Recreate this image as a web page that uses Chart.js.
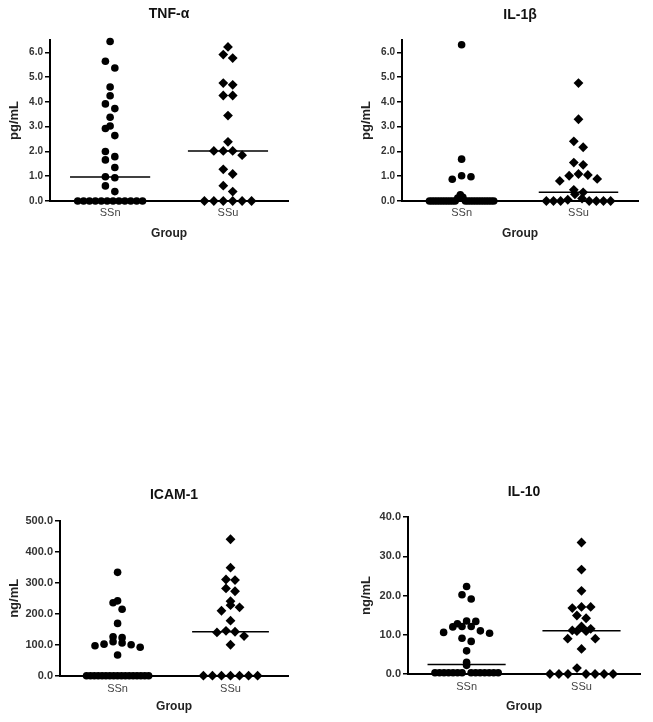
<!DOCTYPE html>
<html>
<head>
<meta charset="utf-8">
<script src="https://cdn.jsdelivr.net/npm/chart.js@4"></script>
<style>
body { margin: 0; background: #fff; }
#page { position: relative; width: 653px; height: 722px; }
canvas { position: absolute; }
</style>
</head>
<body>
<div id="page">
<canvas id="tnfChart" width="293" height="250" style="left:0px;top:0px"></canvas>
<canvas id="il1bChart" width="291" height="250" style="left:352px;top:0px"></canvas>
<canvas id="icamChart" width="293" height="242" style="left:0px;top:480px"></canvas>
<canvas id="il10Chart" width="293" height="242" style="left:352px;top:480px"></canvas>
</div>
<script>
// grupos
const groups = ["SSn", "SSu"];

// TNF-alpha (pg/mL)
const tnfSSn = [6.44, 5.64, 5.37, 4.60, 4.25, 3.92, 3.73, 3.38, 3.03, 2.93, 2.64, 2.00, 1.79, 1.66, 1.35, 0.98, 0.94, 0.61, 0.38,
  0, 0, 0, 0, 0, 0, 0, 0, 0, 0, 0, 0];
const tnfSSu = [6.22, 5.91, 5.77, 4.76, 4.69, 4.26, 4.26, 3.45, 2.39, 2.02, 2.02, 2.02, 1.85, 1.28, 1.09, 0.62, 0.38,
  0, 0, 0, 0, 0, 0];
const tnfMedians = [0.97, 2.02];
const tnfTicks = [0, 1, 2, 3, 4, 5, 6];

// IL-1beta (pg/mL)
const il1bSSn = [6.31, 1.69, 1.02, 0.98, 0.88, 0.25, 0.15, 0.12,
  0, 0, 0, 0, 0, 0, 0, 0, 0, 0, 0, 0, 0, 0, 0, 0, 0, 0, 0, 0, 0, 0, 0];
const il1bSSu = [4.76, 3.30, 2.41, 2.17, 1.55, 1.46, 1.09, 1.05, 1.02, 0.89, 0.81, 0.45, 0.35, 0.27, 0.10, 0.05,
  0, 0, 0, 0, 0, 0, 0];
const il1bMedians = [0, 0.35];
const il1bTicks = [0, 1, 2, 3, 4, 5, 6];

// ICAM-1 (ng/mL)
const icamSSn = [334, 242, 236, 215, 169, 126, 123, 110, 106, 102, 100, 97, 92, 67,
  0, 0, 0, 0, 0, 0, 0, 0, 0, 0, 0, 0, 0, 0, 0, 0, 0];
const icamSSu = [441, 349, 311, 309, 282, 273, 241, 228, 221, 210, 178, 145, 142, 140, 128, 100,
  0, 0, 0, 0, 0, 0, 0];
const icamMedians = [0, 142];
const icamTicks = [0, 100, 200, 300, 400, 500];

// IL-10 (ng/mL)
const il10SSn = [22.3, 20.2, 19.1, 13.5, 13.4, 12.8, 12.1, 12.1, 12.0, 11.0, 10.6, 10.4, 9.1, 8.3, 5.9, 3.0, 2.2,
  0.3, 0.3, 0.3, 0.3, 0.3, 0.3, 0.3, 0.3, 0.3, 0.3, 0.3, 0.3, 0.3, 0.3];
const il10SSu = [33.5, 26.6, 21.2, 17.1, 17.1, 16.8, 14.9, 14.2, 12.1, 11.5, 11.1, 10.9, 10.9, 9.0, 9.0, 6.4, 1.5,
  0, 0, 0, 0, 0, 0, 0];
const il10Medians = [2.4, 11.0];
const il10Ticks = [0, 10, 20, 30, 40];

const FONT = "'Liberation Sans', Arial, sans-serif";

// espalha os pontos em linhas (estilo dot plot), maiores no centro
function swarm(values, center, bin) {
  const sorted = values.slice().sort((a, b) => a - b);
  const rows = [];
  sorted.forEach(v => {
    const row = rows[rows.length - 1];
    if (row && v - row[0] < bin) row.push(v);
    else rows.push([v]);
  });
  const pts = [];
  rows.forEach(row => {
    const n = row.length;
    const step = n > 1 ? Math.min(0.08, 0.55 / (n - 1)) : 0;
    const desc = row.slice().sort((a, b) => b - a);
    const mid = Math.floor((n - 1) / 2);
    desc.forEach((v, i) => {
      const slot = mid + (i % 2 ? 1 : -1) * Math.ceil(i / 2);
      pts.push({ x: center + (slot - (n - 1) / 2) * step, y: v });
    });
  });
  return pts;
}

const panelTitle = {
  id: "panelTitle",
  afterDraw(chart, args, opts) {
    const { ctx, chartArea } = chart;
    ctx.save();
    ctx.font = "bold 14px " + FONT;
    ctx.fillStyle = "#111";
    ctx.textAlign = "center";
    ctx.textBaseline = "middle";
    ctx.fillText(opts.text, (chartArea.left + chartArea.right) / 2, opts.y);
    ctx.restore();
  }
};

function dotPlot(id, p) {
  const bin = p.max * 0.05;
  new Chart(document.getElementById(id), {
    type: "scatter",
    data: {
      datasets: [
        {
          data: swarm(p.ssn, 1, bin),
          pointStyle: "circle",
          pointRadius: 3.8,
          backgroundColor: "#000",
          borderWidth: 0,
          clip: false
        },
        {
          data: swarm(p.ssu, 2, bin),
          pointStyle: "rectRot",
          pointRadius: 4.9,
          backgroundColor: "#000",
          borderWidth: 0,
          clip: false
        },
        {
          data: [{ x: 0.66, y: p.medians[0] }, { x: 1.34, y: p.medians[0] }],
          showLine: true, pointRadius: 0, borderColor: "#000", borderWidth: 1.5, clip: false
        },
        {
          data: [{ x: 1.66, y: p.medians[1] }, { x: 2.34, y: p.medians[1] }],
          showLine: true, pointRadius: 0, borderColor: "#000", borderWidth: 1.5, clip: false
        }
      ]
    },
    options: {
      responsive: false,
      animation: false,
      layout: { padding: { top: p.top, left: 0, right: 0, bottom: 0 } },
      plugins: {
        legend: { display: false },
        tooltip: { enabled: false },
        panelTitle: { text: p.title, y: p.titleY }
      },
      scales: {
        x: {
          type: "linear",
          min: 0.49,
          max: 2.51,
          afterBuildTicks: s => { s.ticks = groups.map((g, i) => ({ value: i + 1 })); },
          afterFit: s => { s.height = p.xH; },
          border: { color: "#000", width: 2 },
          grid: { drawOnChartArea: false, drawTicks: false },
          ticks: {
            padding: p.xPad,
            color: "#444",
            font: { family: FONT, size: 11 },
            callback: v => groups[Math.round(v) - 1]
          },
          title: {
            display: true,
            text: "Group",
            color: "#222",
            font: { family: FONT, size: 12, weight: "bold" },
            padding: { top: 0, bottom: p.gPad }
          }
        },
        y: {
          min: 0,
          max: p.max,
          afterBuildTicks: s => { s.ticks = p.ticks.map(v => ({ value: v })); },
          afterFit: s => { s.width = p.yW; },
          border: { color: "#000", width: 2 },
          grid: { drawOnChartArea: false, drawTicks: true, tickLength: 5, color: "#000", lineWidth: 1.5 },
          ticks: {
            padding: 2,
            color: "#333",
            font: { family: FONT, size: p.tickSize, weight: "bold" },
            callback: v => v.toFixed(1)
          },
          title: {
            display: true,
            text: p.unit,
            color: "#222",
            font: { family: FONT, size: 13, weight: "bold" },
            padding: { top: 7, bottom: 0 }
          }
        }
      }
    },
    plugins: [panelTitle]
  });
}

// TNF-a
dotPlot("tnfChart", {
  title: "TNF-\u03b1", unit: "pg/mL", ssn: tnfSSn, ssu: tnfSSu, medians: tnfMedians,
  max: 6.5, ticks: tnfTicks, top: 40, titleY: 14, xH: 49, xPad: 5, gPad: 9.5, yW: 50, tickSize: 10
});

// IL-1b
dotPlot("il1bChart", {
  title: "IL-1\u03b2", unit: "pg/mL", ssn: il1bSSn, ssu: il1bSSu, medians: il1bMedians,
  max: 6.5, ticks: il1bTicks, top: 40, titleY: 15, xH: 49, xPad: 5, gPad: 9.5, yW: 50, tickSize: 10
});

// ICAM-1
dotPlot("icamChart", {
  title: "ICAM-1", unit: "ng/mL", ssn: icamSSn, ssu: icamSSu, medians: icamMedians,
  max: 500, ticks: icamTicks, top: 41, titleY: 15, xH: 46.3, xPad: 7, gPad: 7.8, yW: 60, tickSize: 11
});

// IL-10
dotPlot("il10Chart", {
  title: "IL-10", unit: "ng/mL", ssn: il10SSn, ssu: il10SSu, medians: il10Medians,
  max: 40, ticks: il10Ticks, top: 37, titleY: 12, xH: 48, xPad: 6, gPad: 7.8, yW: 56, tickSize: 11
});
</script>
</body>
</html>
